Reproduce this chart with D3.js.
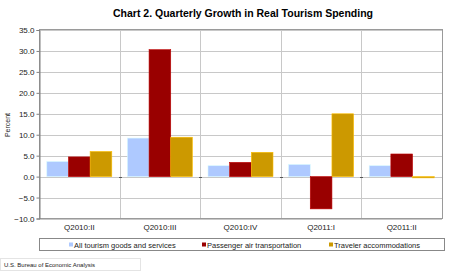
<!DOCTYPE html>
<html>
<head>
<meta charset="utf-8">
<script src="https://cdn.jsdelivr.net/npm/d3@7"></script>
<style>
  body { margin: 0; background: #fff; }
  svg { display: block; font-family: "Liberation Sans", Arial, sans-serif; }
</style>
</head>
<body>
<div id="chart"></div>
<script>
const quarters = ["Q2010:II", "Q2010:III", "Q2010:IV", "Q2011:I", "Q2011:II"];
const seriesNames = ["All tourism goods and services", "Passenger air transportation", "Traveler accommodations"];
const allTourism = [3.6, 9.2, 2.6, 2.9, 2.6];
const passengerAir = [4.7, 30.3, 3.4, -7.7, 5.4];
const travelerAccom = [6.0, 9.4, 5.8, 15.0, -0.3];
const yTicks = [-10, -5, 0, 5, 10, 15, 20, 25, 30, 35];
const colors = ["#aec9ff", "#990000", "#cc9900"];

const width = 461, height = 273;
const margin = {top: 30, right: 19, bottom: 55, left: 39};

const svg = d3.select('#chart')
    .append('svg')
        .attr('width', width)
        .attr('height', height);

const x = d3.scaleBand()
    .domain(quarters)
    .range([margin.left, width - margin.right])
    .paddingInner(0)
    .paddingOuter(0);

const xInner = d3.scaleBand()
    .domain(seriesNames)
    .range([0, x.bandwidth()])
    .paddingOuter(0.36)
    .paddingInner(0);

const y = d3.scaleLinear()
    .domain([-10, 35])
    .range([height - margin.bottom + 0.5, margin.top]);

// title
svg.append('text')
    .attr('x', 243)
    .attr('y', 17)
    .attr('text-anchor', 'middle')
    .style('font-size', '10.5px')
    .style('font-weight', 'bold')
    .text('Chart 2. Quarterly Growth in Real Tourism Spending');

// horizontal gridlines
svg.append('g')
    .selectAll('line')
    .data(yTicks)
    .join('line')
        .attr('x1', margin.left)
        .attr('x2', width - margin.right)
        .attr('y1', d => Math.round(y(d)) + 0.5)
        .attr('y2', d => Math.round(y(d)) + 0.5)
        .attr('stroke', '#c8c8c8')
        .attr('stroke-width', 1);

// vertical category gridlines
svg.append('g')
    .selectAll('line')
    .data(quarters.slice(1))
    .join('line')
        .attr('x1', d => Math.round(x(d)) + 0.5)
        .attr('x2', d => Math.round(x(d)) + 0.5)
        .attr('y1', margin.top)
        .attr('y2', y(-10))
        .attr('stroke', '#c8c8c8');

// bars
const series = [allTourism, passengerAir, travelerAccom];
const groups = svg.append('g')
    .selectAll('g')
    .data(quarters)
    .join('g')
        .attr('transform', d => `translate(${x(d)},0)`);

groups.selectAll('rect')
    .data((q, qi) => series.map((s, si) => ({name: seriesNames[si], value: s[qi], color: colors[si]})))
    .join('rect')
        .attr('x', d => xInner(d.name))
        .attr('width', xInner.bandwidth())
        .attr('y', d => y(Math.max(0, d.value)))
        .attr('height', d => Math.max(1, Math.abs(y(d.value) - y(0))))
        .attr('fill', d => d.color)
        .attr('stroke', d => d3.color(d.color).brighter(0.6))
        .attr('stroke-width', 0.6);

// zero line tick marks at category boundaries
svg.append('g')
    .selectAll('line')
    .data(quarters.slice(1))
    .join('line')
        .attr('x1', d => Math.round(x(d)) - 1)
        .attr('x2', d => Math.round(x(d)) + 2)
        .attr('y1', Math.round(y(0)) + 0.5)
        .attr('y2', Math.round(y(0)) + 0.5)
        .attr('stroke', '#555');

// plot frame
svg.append('rect')
    .attr('x', margin.left + 0.5)
    .attr('y', margin.top - 0.5)
    .attr('width', width - margin.right - margin.left)
    .attr('height', y(-10) - margin.top + 0.5)
    .attr('fill', 'none')
    .attr('stroke', '#9a9a9a');

// y axis
const yAxis = d3.axisLeft(y)
    .tickValues(yTicks)
    .tickSize(3)
    .tickFormat(d3.format('.1f'));

svg.append('g')
    .attr('transform', `translate(${margin.left + 0.5},0)`)
    .call(yAxis)
    .call(g => g.select('.domain').attr('stroke', '#808080'))
    .call(g => g.selectAll('.tick line').attr('stroke', '#808080'))
    .call(g => g.selectAll('.tick text')
        .attr('x', -5)
        .style('font-size', '8px')
        .style('font-family', '"Liberation Sans", Arial, sans-serif')
        .attr('fill', '#222'));

svg.append('text')
    .attr('transform', 'translate(10,125) rotate(-90)')
    .attr('text-anchor', 'middle')
    .style('font-size', '7px')
    .attr('fill', '#222')
    .text('Percent');

// x labels
svg.append('g')
    .selectAll('text')
    .data(quarters)
    .join('text')
        .attr('x', d => x(d) + x.bandwidth() / 2)
        .attr('y', y(-10) + 11)
        .attr('text-anchor', 'middle')
        .style('font-size', '8px')
        .attr('fill', '#222')
        .text(d => d);

// legend
svg.append('rect')
    .attr('x', 39.5)
    .attr('y', 238.5)
    .attr('width', 405)
    .attr('height', 12)
    .attr('fill', '#fff')
    .attr('stroke', '#888');

const legendX = [69, 202, 329];
const legend = svg.append('g')
    .selectAll('g')
    .data(seriesNames)
    .join('g')
        .attr('transform', (d, i) => `translate(${legendX[i]},241)`);

legend.append('rect')
    .attr('width', 4)
    .attr('height', 4)
    .attr('y', 1.5)
    .attr('fill', (d, i) => colors[i]);

legend.append('text')
    .attr('x', 5)
    .attr('y', 6.5)
    .style('font-size', '7.5px')
    .attr('fill', '#222')
    .text(d => d);

// source
svg.append('rect')
    .attr('x', 0.5)
    .attr('y', 258.5)
    .attr('width', 140)
    .attr('height', 12)
    .attr('fill', '#fff')
    .attr('stroke', '#e4e4e4');

svg.append('text')
    .attr('x', 4)
    .attr('y', 266.5)
    .style('font-size', '6px')
    .attr('fill', '#222')
    .text('U.S. Bureau of Economic Analysis');
</script>
</body>
</html>
